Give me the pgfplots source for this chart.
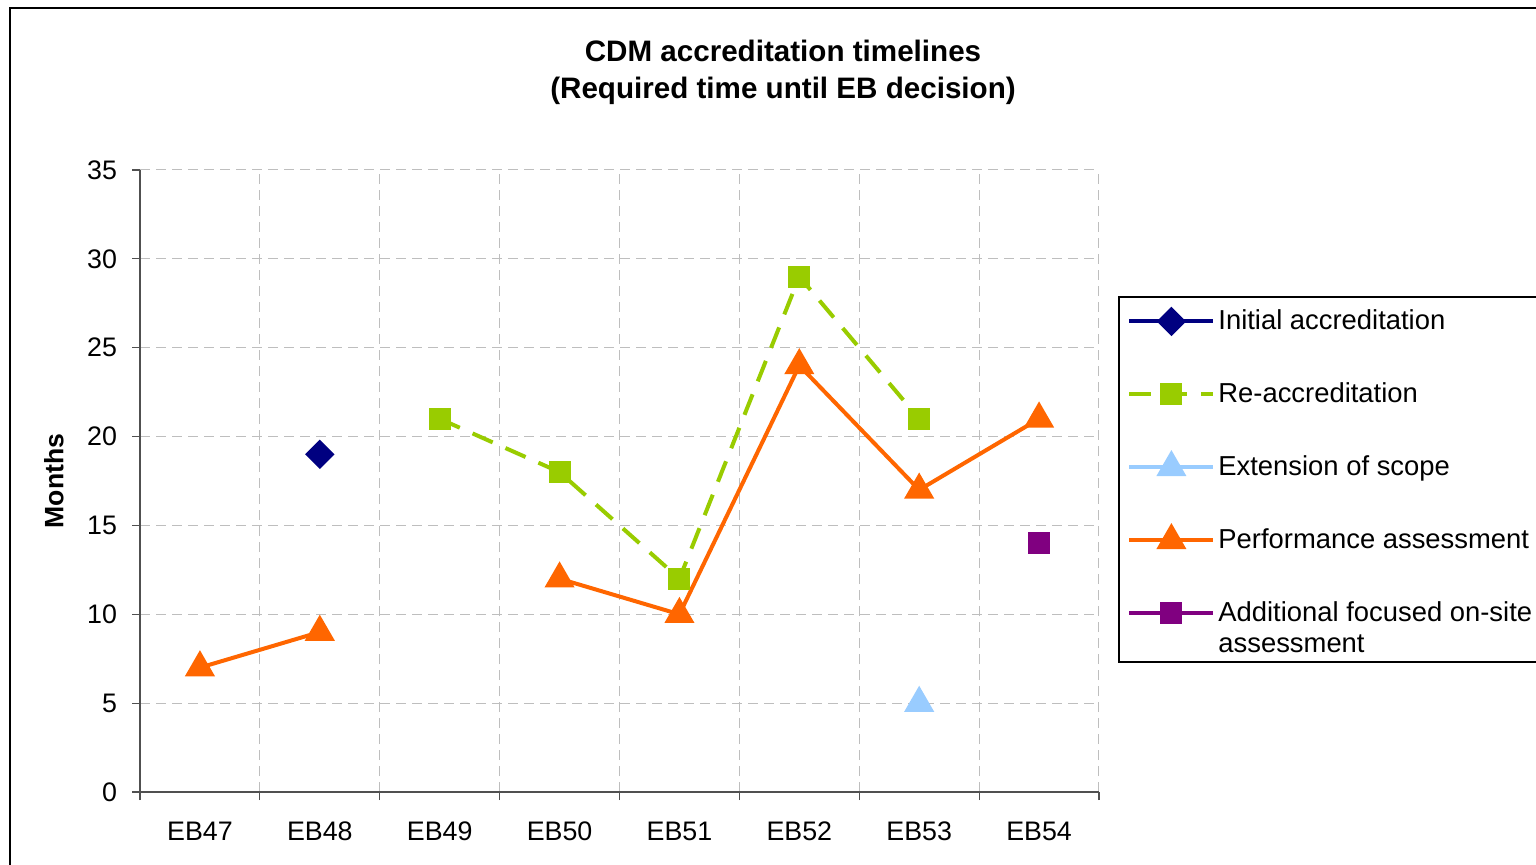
\documentclass[border=0pt]{standalone}
\usepackage{fontspec}
\setmainfont{Liberation Sans}
\usepackage{pgfplots}
\pgfplotsset{compat=1.18}
\definecolor{cInit}{HTML}{000080}
\definecolor{cRe}{HTML}{99CC00}
\definecolor{cExt}{HTML}{99CCFF}
\definecolor{cPerf}{HTML}{FF6600}
\definecolor{cAdd}{HTML}{800080}
\definecolor{gridc}{HTML}{BEBEBE}
\definecolor{axc}{HTML}{505050}
\begin{document}
\begin{tikzpicture}
\useasboundingbox (0pt,0pt) rectangle (768pt,-432.5pt);
\clip (0pt,0pt) rectangle (768pt,-432.5pt);
\draw[line width=1pt] (5pt,-4pt) rectangle (780pt,-445pt);
\node[font=\fontsize{14.8}{18.5}\selectfont\bfseries, align=center] at (391.5pt,-36pt) {CDM accreditation timelines\\(Required time until EB decision)};
\begin{axis}[
  at={(70pt,-396pt)}, anchor=south west,
  scale only axis, width=479.5pt, height=311pt,
  xmin=-0.5, xmax=7.5, ymin=0, ymax=35,
  axis lines=left, axis line style={-, axc, line width=0.8pt},
  xtick={-0.5,0.5,...,7.5},
  xticklabels={EB47,EB48,EB49,EB50,EB51,EB52,EB53,EB54},
  x tick label as interval,
  ytick={0,5,...,35},
  tick align=outside, major tick length=4pt,
  tick style={axc, line width=0.6pt},
  grid=major, major grid style={gridc, dash pattern=on 5pt off 3pt, line width=0.5pt},
  tick label style={font=\fontsize{13.4}{16}\selectfont},
  xticklabel style={yshift=-7.5pt},
  yticklabel style={xshift=-4pt},
  /pgf/number format/assume math mode=true,
  ylabel={Months},
  ylabel style={font=\fontsize{13.3}{16}\selectfont\bfseries, at={(axis description cs:-0.0897,0.5)}, anchor=center},
  unbounded coords=jump,
  legend style={at={(1.0292,0.7829)}, anchor=north west, draw=none, fill=none,
    font=\fontsize{13.7}{16}\selectfont, row sep=20.5pt, column sep=1.5pt, inner sep=0pt,
    nodes={text height=12pt, text depth=4pt, inner sep=0pt}},
  legend cell align=left,
  legend image code/.code={\draw[mark repeat=2,mark phase=2] plot coordinates {(0pt,0pt)(21pt,0pt)(42pt,0pt)};},
  clip=false,
]
\addplot[cInit, line width=2pt, mark=square*, mark size=4.2pt, mark options={solid, fill=cInit, rotate=45}]
  coordinates {(1,19)};
\addlegendentry{Initial accreditation}
\addplot[cRe, line width=2pt, dash pattern=on 11pt off 7pt, mark=square*, mark size=4.5pt, mark options={solid, fill=cRe}]
  coordinates {(2,21) (3,18) (4,12) (5,29) (6,21)};
\addlegendentry{Re-accreditation}
\addplot[cExt, line width=2pt, mark=triangle*, mark size=6.7pt, mark options={solid, fill=cExt}]
  coordinates {(6,5)};
\addlegendentry{Extension of scope}
\addplot[cPerf, line width=2pt, mark=triangle*, mark size=6.7pt, mark options={solid, fill=cPerf}]
  coordinates {(0,7) (1,9) (2,nan) (3,12) (4,10) (5,24) (6,17) (7,21)};
\addlegendentry{Performance assessment}
\addplot[cAdd, line width=2pt, mark=square*, mark size=4.5pt, mark options={solid, fill=cAdd}]
  coordinates {(7,14)};
\addlegendentry{Additional focused on-site}
\end{axis}
\node[font=\fontsize{13.7}{16}\selectfont, anchor=west, inner sep=0pt] at (609pt,-322pt) {assessment};
\draw[line width=0.6pt] (559.5pt,-148.5pt) rectangle (800pt,-331pt);
\end{tikzpicture}
\end{document}
